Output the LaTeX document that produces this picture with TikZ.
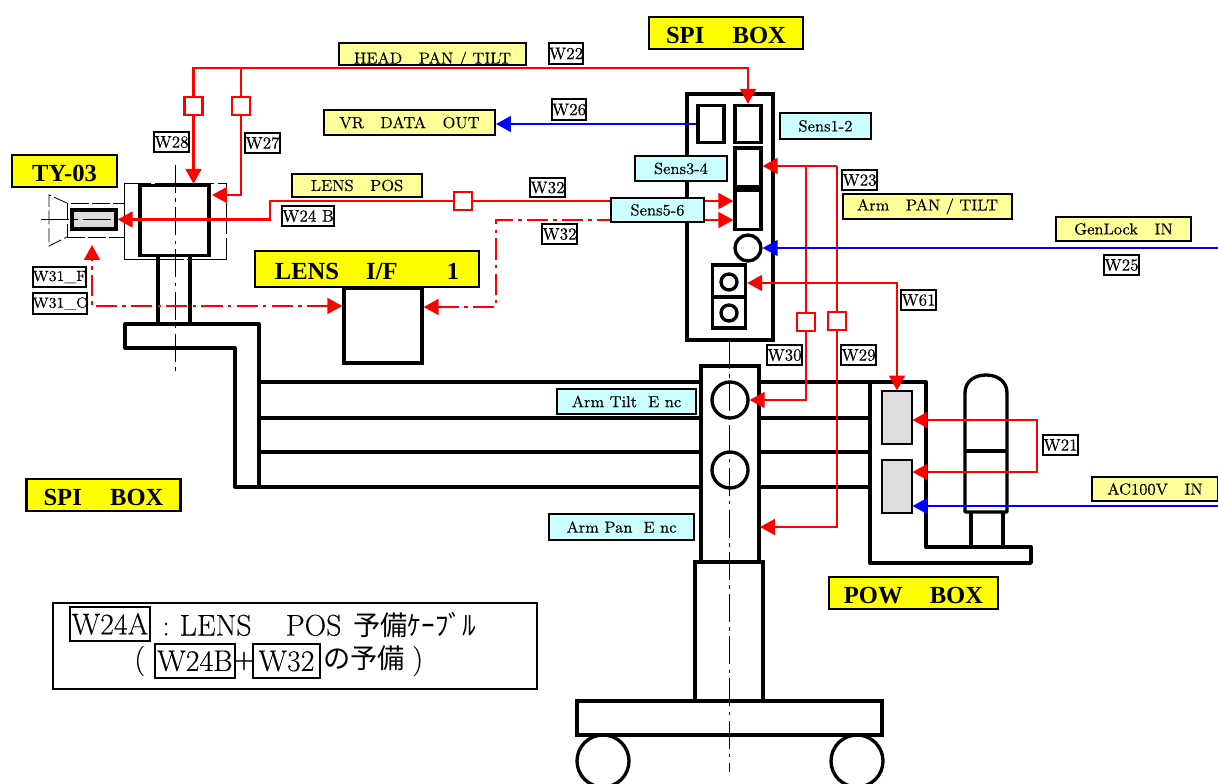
\documentclass[tikz,border=0pt]{standalone}
\usepackage{fontspec}
\newfontfamily\cjk{Noto Sans CJK JP}
\newfontfamily\headfont{Liberation Serif}
\newfontfamily\lmdark{Latin Modern Roman}[FakeBold=0.2]
\usetikzlibrary{arrows.meta}

\definecolor{tagyellow}{HTML}{FFFF00}
\definecolor{tagpale}{HTML}{FFFF99}
\definecolor{tagcyan}{HTML}{CCFFFF}
\definecolor{graypad}{HTML}{DDDDDD}

\tikzset{
	sz/.style 2 args={minimum width=#1*0.02cm, minimum height=#2*0.02cm, inner sep=0pt},
	part/.style={draw, rectangle, line width=1.9pt},
	port/.style={draw, circle, line width=1.9pt, inner sep=0pt, minimum size=#1*0.02cm},
	relay/.style={draw=red, rectangle, line width=1.2pt, fill=white, inner sep=0pt, minimum size=18*0.02cm},
	pad/.style={draw, rectangle, line width=0.6pt, fill=graypad},
	frame/.style={line width=1.9pt, line join=round},
	hair/.style={line width=0.45pt},
	axis/.style={hair, dash pattern=on 16pt off 3pt on 2pt off 3pt},
	redwire/.style={red, line width=1.2pt},
	reddash/.style={red, line width=1.2pt, dash pattern=on 12pt off 3pt on 2pt off 3pt},
	bluewire/.style={blue, line width=1.2pt},
	wiretag/.style={draw, rectangle, fill=white, line width=1.2pt, font=\fontsize{9.6}{11}\lmdark},
	headtag/.style={draw, rectangle, fill=tagyellow, line width=1.2pt, text height=11.4pt, text depth=0pt, font=\fontsize{14}{16}\headfont\bfseries},
	paletag/.style={draw, rectangle, fill=tagpale, line width=1.2pt, font=\fontsize{9.1}{11}\lmdark},
	cyantag/.style={draw, rectangle, fill=tagcyan, line width=1.2pt, font=\fontsize{9.1}{11}\lmdark},
	notetxt/.style={font=\fontsize{17}{20}\lmdark, inner sep=0pt},
	notetag/.style={notetxt, draw, line width=1.2pt},
}

\begin{document}
\begin{tikzpicture}[x=0.02cm, y=-0.02cm, >={Triangle[length=8.5pt,width=9pt]}]
	\useasboundingbox (0,0) rectangle (1218,784);

	\draw[frame] (125,324) -- (259,324) -- (259,487) -- (235,487) -- (235,348) -- (125,348) -- cycle;
	\draw[frame] (158,255) -- (158,324);
	\draw[frame] (190,255) -- (190,324);
	\draw[frame] (259,382) -- (870,382);
	\draw[frame] (259,418) -- (870,418);
	\draw[frame] (259,452) -- (870,452);
	\draw[frame] (259,487) -- (870,487);

	\node[part, fill=white, sz={58}{196}] (column) at (730,464) {};
	\node[part, fill=white, sz={68}{140}] (pedestal) at (729,632) {};
	\node[part, fill=white, sz={305}{34}] (base) at (729.5,718) {};
	\node[port=52] (wheelL) at (603,761) {};
	\node[port=52] (wheelR) at (857,761) {};
	\node[port=36] (encT) at (730,400) {};
	\node[port=36] (encP) at (730,470) {};

	\node[part, fill=white, sz={86}{246}] (spibox) at (730,217) {};
	\node[part, sz={26}{37}] (connA) at (711,124) {};
	\node[part, sz={26}{37}] (connB) at (748,124) {};
	\node[part, sz={26}{39}] (connC) at (748,167.5) {};
	\node[part, sz={26}{39}] (connD) at (748,210) {};
	\node[port=26] (jack) at (748,248) {};
	\node[part, sz={33}{32}] (outU) at (729,281) {};
	\node[part, sz={33}{31}] (outL) at (729,312.5) {};
	\node[port=16] (pinU) at (729,282) {};
	\node[port=16] (pinL) at (729,313) {};
	\draw[axis] (729,341) -- (729,772);

	\node[draw, rectangle, hair, dash pattern=on 34pt off 2pt, sz={102}{76}] (shroud) at (175,221) {};
	\node[part, sz={69}{70}] (cam) at (174.5,220.5) {};
	\node[draw, rectangle, hair, dash pattern=on 10pt off 2pt, fill=white, sz={57}{34}] (lens) at (95.5,220) {};
	\draw[hair, dash pattern=on 8pt off 2pt] (67,203) -- (49,195) -- (49,246) -- (67,237);
	\node[part, fill=graypad, sz={44}{19}] (sensor) at (94,219.5) {};
	\draw[axis] (41,219.5) -- (117,219.5);
	\draw[axis] (175,165) -- (175,372);

	\node[part, fill=white, sz={78}{75}] (lensif) at (383,325.5) {};

	\draw[frame] (870,382) -- (926,382) -- (926,547) -- (1031,547) -- (1031,563) -- (870,563) -- cycle;
	\node[pad, sz={30}{53}] (padU) at (897,417.5) {};
	\node[pad, sz={30}{53}] (padL) at (897,486.5) {};
	\draw[frame] (965,512) -- (965,393) .. controls (965,381) and (975,375) .. (986,375) .. controls (997,375) and (1007,381) .. (1007,393) -- (1007,512) -- cycle;
	\draw[frame] (965,451) -- (1007,451);
	\draw[frame] (971,512) -- (971,547);
	\draw[frame] (1003,512) -- (1003,547);

	\node[relay] (sqHeadA) at (193.5,106) {};
	\node[relay] (sqHeadB) at (241,106) {};
	\node[relay] (sqLens) at (463,201) {};
	\node[relay] (sqTilt) at (806,322) {};
	\node[relay] (sqPan) at (837,321) {};

	\coordinate (topA) at (193.5,68);
	\coordinate (topB) at (241,68);
	\coordinate (topC) at (748,68);
	\coordinate (headIn) at (212,195);
	\coordinate (lensUp) at (270,201);
	\coordinate (sensA) at (806,166);
	\coordinate (sensB) at (837,166);
	\coordinate (panIn) at (760,527);
	\coordinate (auxIn) at (897,283);
	\coordinate (mainA) at (1037,420);
	\coordinate (mainB) at (1037,472);
	\coordinate (focusA) at (92,306);
	\coordinate (focusB) at (92,245);
	\coordinate (cableA) at (496,307);
	\coordinate (cableB) at (496,220);
	\coordinate (genIn) at (1218,248);
	\coordinate (acIn) at (1218,506);

	\draw[->, redwire] (sqHeadA) -- (topA) -- (topC) -- (connB.north);
	\draw[->, redwire] (sqHeadA) -- (sqHeadA |- cam.north);
	\draw[redwire] (topB) -- (sqHeadB);
	\draw[->, redwire] (sqHeadB) |- (headIn);
	\draw[->, redwire] (sqLens) -- (lensUp) |- (sensor.east);
	\draw[->, redwire] (sqLens) -- (sqLens -| connD.west);
	\draw[->, redwire] (sensB) -- (sensB -| connC.east);
	\draw[redwire] (sensA) -- (sqTilt);
	\draw[->, redwire] (sqTilt) |- (encT.east);
	\draw[redwire] (sensB) -- (sqPan);
	\draw[->, redwire] (sqPan) |- (panIn);
	\draw[<->, redwire] (auxIn -| outU.east) -- (auxIn) -- (padU.north);
	\draw[<->, redwire] (mainA -| padU.east) -- (mainA) -- (mainB) -- (mainB -| padL.east);
	\draw[<->, reddash] (focusA -| lensif.west) -- (focusA) -- (focusB);
	\draw[<->, reddash] (cableA -| lensif.east) -- (cableA) -- (cableB) -- (cableB -| connD.west);

	\node[paletag, sz={171}{25}] (vrout) at (409.5,122.5) {VR\ \ \ DATA\ \ \ OUT};
	\draw[->, bluewire] (connA.west) -- (connA.west -| vrout.east);
	\draw[->, bluewire] (genIn) -- (jack);
	\draw[->, bluewire] (acIn) -- (acIn -| padL.east);

	\node[headtag, sz={105}{32}] (ty) at (64.5,171) {TY-03\hspace{5pt}};
	\node[headtag, sz={154}{32}] (spiTop) at (726,33) {SPI\hspace{1.15em}BOX};
	\node[headtag, sz={154}{32}] (spiLow) at (103.5,495) {SPI\hspace{1.15em}BOX};
	\node[headtag, sz={224}{36}] (lensTag) at (367,269) {LENS\hspace{1.1em}I/F\hspace{2em}1};
	\node[headtag, sz={169}{32}] (powTag) at (913.5,593) {POW\hspace{1.1em}BOX};

	\node[paletag, sz={187}{22}, path picture={\node[yshift=-3.2pt] (headText) at (path picture bounding box.center) {HEAD\ \ \ PAN / TILT};}] (headPan) at (432.5,54) {};
	\node[paletag, sz={130}{23}] (lensPos) at (357,185.5) {LENS\ \ \ POS};
	\node[paletag, sz={169}{25}] (armPan) at (927.5,206.5) {Arm\ \ \ PAN / TILT};
	\node[paletag, sz={135}{24}] (genLock) at (1123.5,229) {GenLock\ \ \ IN};
	\node[paletag, sz={126}{24}] (acPow) at (1155,489) {AC100V\ \ \ IN};

	\node[cyantag, sz={91}{26}] (sens12) at (825.5,126) {Sens1-2};
	\node[cyantag, sz={92}{25}] (sens34) at (681,168.5) {Sens3-4};
	\node[cyantag, sz={93}{24}] (sens56) at (657.5,210) {Sens5-6};
	\node[cyantag, sz={139}{25}] (armTilt) at (626.5,401.5) {Arm Tilt\ \ E nc};
	\node[cyantag, sz={145}{26}] (armPanEnc) at (621.5,527) {Arm Pan\ \ E nc};

	\node[wiretag, sz={34}{21}] (w22) at (566,53.5) {W22};
	\node[wiretag, sz={34}{21}] (w26) at (569,109.5) {W26};
	\node[wiretag, sz={35}{20}] (w28) at (171.5,142) {W28};
	\node[wiretag, sz={35}{20}] (w27) at (262.5,143) {W27};
	\node[wiretag, sz={35}{20}] (w23) at (859.5,180) {W23};
	\node[wiretag, sz={35}{19}] (w32a) at (547.5,187.5) {W32};
	\node[wiretag, sz={35}{20}] (w32b) at (559.5,234) {W32};
	\node[wiretag, sz={50}{20}] (w24b) at (308,216) {W24 B};
	\node[wiretag, sz={35}{20}] (w25) at (1121.5,265) {W25};
	\node[wiretag, sz={53}{20}, font=\fontsize{8.4}{11}\lmdark] (w31f) at (59.5,277) {W31\_F};
	\node[wiretag, sz={54}{21}, font=\fontsize{8.4}{11}\lmdark] (w31c) at (60,303.5) {W31\_C};
	\node[wiretag, sz={35}{20}] (w61) at (918.5,300) {W61};
	\node[wiretag, sz={35}{20}] (w30) at (784.5,355) {W30};
	\node[wiretag, sz={35}{20}] (w29) at (858.5,355) {W29};
	\node[wiretag, sz={35}{20}] (w21) at (1060.5,445) {W21};

	\node[draw, rectangle, fill=white, line width=1.2pt, sz={484}{86}] (note) at (295,646) {};
	\node[notetag, sz={80}{34}] (noteA) at (110,624) {W24A};
	\node[notetxt, anchor=west] (noteLine) at (162,625) {:\hspace{0.33em}LENS\hspace{1.15em}POS\hspace{0.4em}{\cjk\fontsize{15.5}{18}\selectfont 予備ｹｰﾌﾞﾙ}};
	\node[notetxt, anchor=west] (noteOpen) at (134,661) {(};
	\node[notetag, sz={80}{34}] (noteB) at (195,661) {W24B};
	\node[notetxt] (notePlus) at (244,661) {+};
	\node[notetag, sz={67}{34}] (noteC) at (286.5,661) {W32};
	\node[notetxt, anchor=west] (noteEnd) at (323,661) {{\cjk\fontsize{15.5}{18}\selectfont の予備}\hspace{0.25em})};
\end{tikzpicture}
\end{document}
